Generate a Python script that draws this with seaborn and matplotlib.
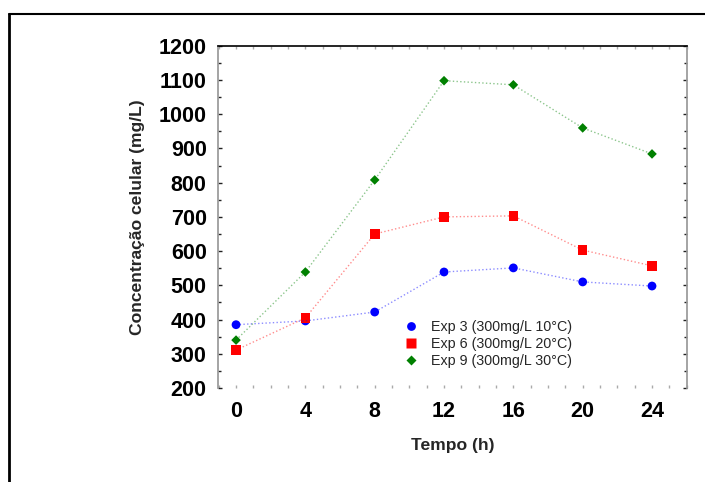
#!/usr/bin/env python3
"""Cell concentration over time for three experiments."""

import matplotlib
matplotlib.use("Agg")
import matplotlib.pyplot as plt
from matplotlib.lines import Line2D
from matplotlib.ticker import MultipleLocator
import pandas as pd
import seaborn as sns

TEMPO = [0, 4, 8, 12, 16, 20, 24]
EXP3 = [385, 396, 422, 539, 551, 510, 498]
EXP6 = [311, 405, 650, 700, 703, 603, 557]
EXP9 = [340, 539, 808, 1098, 1086, 960, 884]
SERIES = ["Exp 3 (300mg/L 10°C)", "Exp 6 (300mg/L 20°C)", "Exp 9 (300mg/L 30°C)"]
COLORS = ["#0000ff", "#ff0000", "#008000"]
MARKERS = ["o", "s", "D"]
SIZES = [40, 48, 24]
Y_TICKS = list(range(200, 1201, 100))
X_TICKS = TEMPO


def main() -> None:
    rows = []
    for name, vals in zip(SERIES, [EXP3, EXP6, EXP9]):
        for t, v in zip(TEMPO, vals):
            rows.append({"Tempo": t, "Conc": v, "Exp": name})
    df = pd.DataFrame(rows)

    sns.set_theme(style="white")
    plt.rcParams["font.family"] = ["Liberation Sans", "DejaVu Sans"]

    fig = plt.figure(figsize=(7.05, 4.82), dpi=100)
    ax = fig.add_axes([0.309, 0.195, 0.665, 0.710])

    palette = dict(zip(SERIES, COLORS))
    sns.lineplot(data=df, x="Tempo", y="Conc", hue="Exp", palette=palette,
                 linestyle=":", linewidth=1.0, alpha=0.45, legend=False, ax=ax)
    sns.scatterplot(data=df, x="Tempo", y="Conc", hue="Exp", style="Exp",
                    size="Exp", sizes=dict(zip(SERIES, SIZES)),
                    palette=palette, markers=dict(zip(SERIES, MARKERS)),
                    edgecolor="none", ax=ax)

    ax.set_xlim(-1.05, 26)
    ax.set_ylim(200, 1200)
    ax.set_xticks(X_TICKS)
    ax.set_yticks(Y_TICKS)
    ax.xaxis.set_minor_locator(MultipleLocator(1))
    ax.yaxis.set_minor_locator(MultipleLocator(50))

    for lab in ax.get_xticklabels() + ax.get_yticklabels():
        lab.set_fontweight("bold")
        lab.set_fontsize(15.5)
    ax.tick_params(axis="y", which="both", direction="in", left=True, right=True,
                   colors="#222222", length=3, width=1, pad=8)
    ax.tick_params(axis="y", which="minor", length=2)
    ax.tick_params(axis="x", which="both", direction="in", bottom=True, top=True,
                   color="#aaaaaa", length=2, width=1, pad=9)
    ax.tick_params(axis="both", labelcolor="black")

    ax.spines["bottom"].set_visible(False)
    ax.spines["top"].set_color("black")
    ax.spines["top"].set_linewidth(1.2)
    ax.spines["left"].set_color("#999999")
    ax.spines["right"].set_color("#999999")

    ax.set_xlabel("Tempo (h)", fontsize=12.6, fontweight="bold", labelpad=12)
    ax.set_ylabel("Concentração celular (mg/L)", fontsize=12.6, fontweight="bold",
                  labelpad=10)

    ax.legend(title=None, frameon=False, fontsize=10.3, loc="upper left",
              bbox_to_anchor=(0.37, 0.215), handletextpad=0.4,
              labelspacing=0.2, borderaxespad=0)

    fig.add_artist(Line2D([9 / 705, 9 / 705], [0, 1 - 14 / 482], color="black",
                          linewidth=2, transform=fig.transFigure))
    fig.add_artist(Line2D([9 / 705, 1], [1 - 14 / 482, 1 - 14 / 482], color="black",
                          linewidth=1.5, transform=fig.transFigure))

    fig.savefig("out.png", dpi=100)


if __name__ == "__main__":
    main()
